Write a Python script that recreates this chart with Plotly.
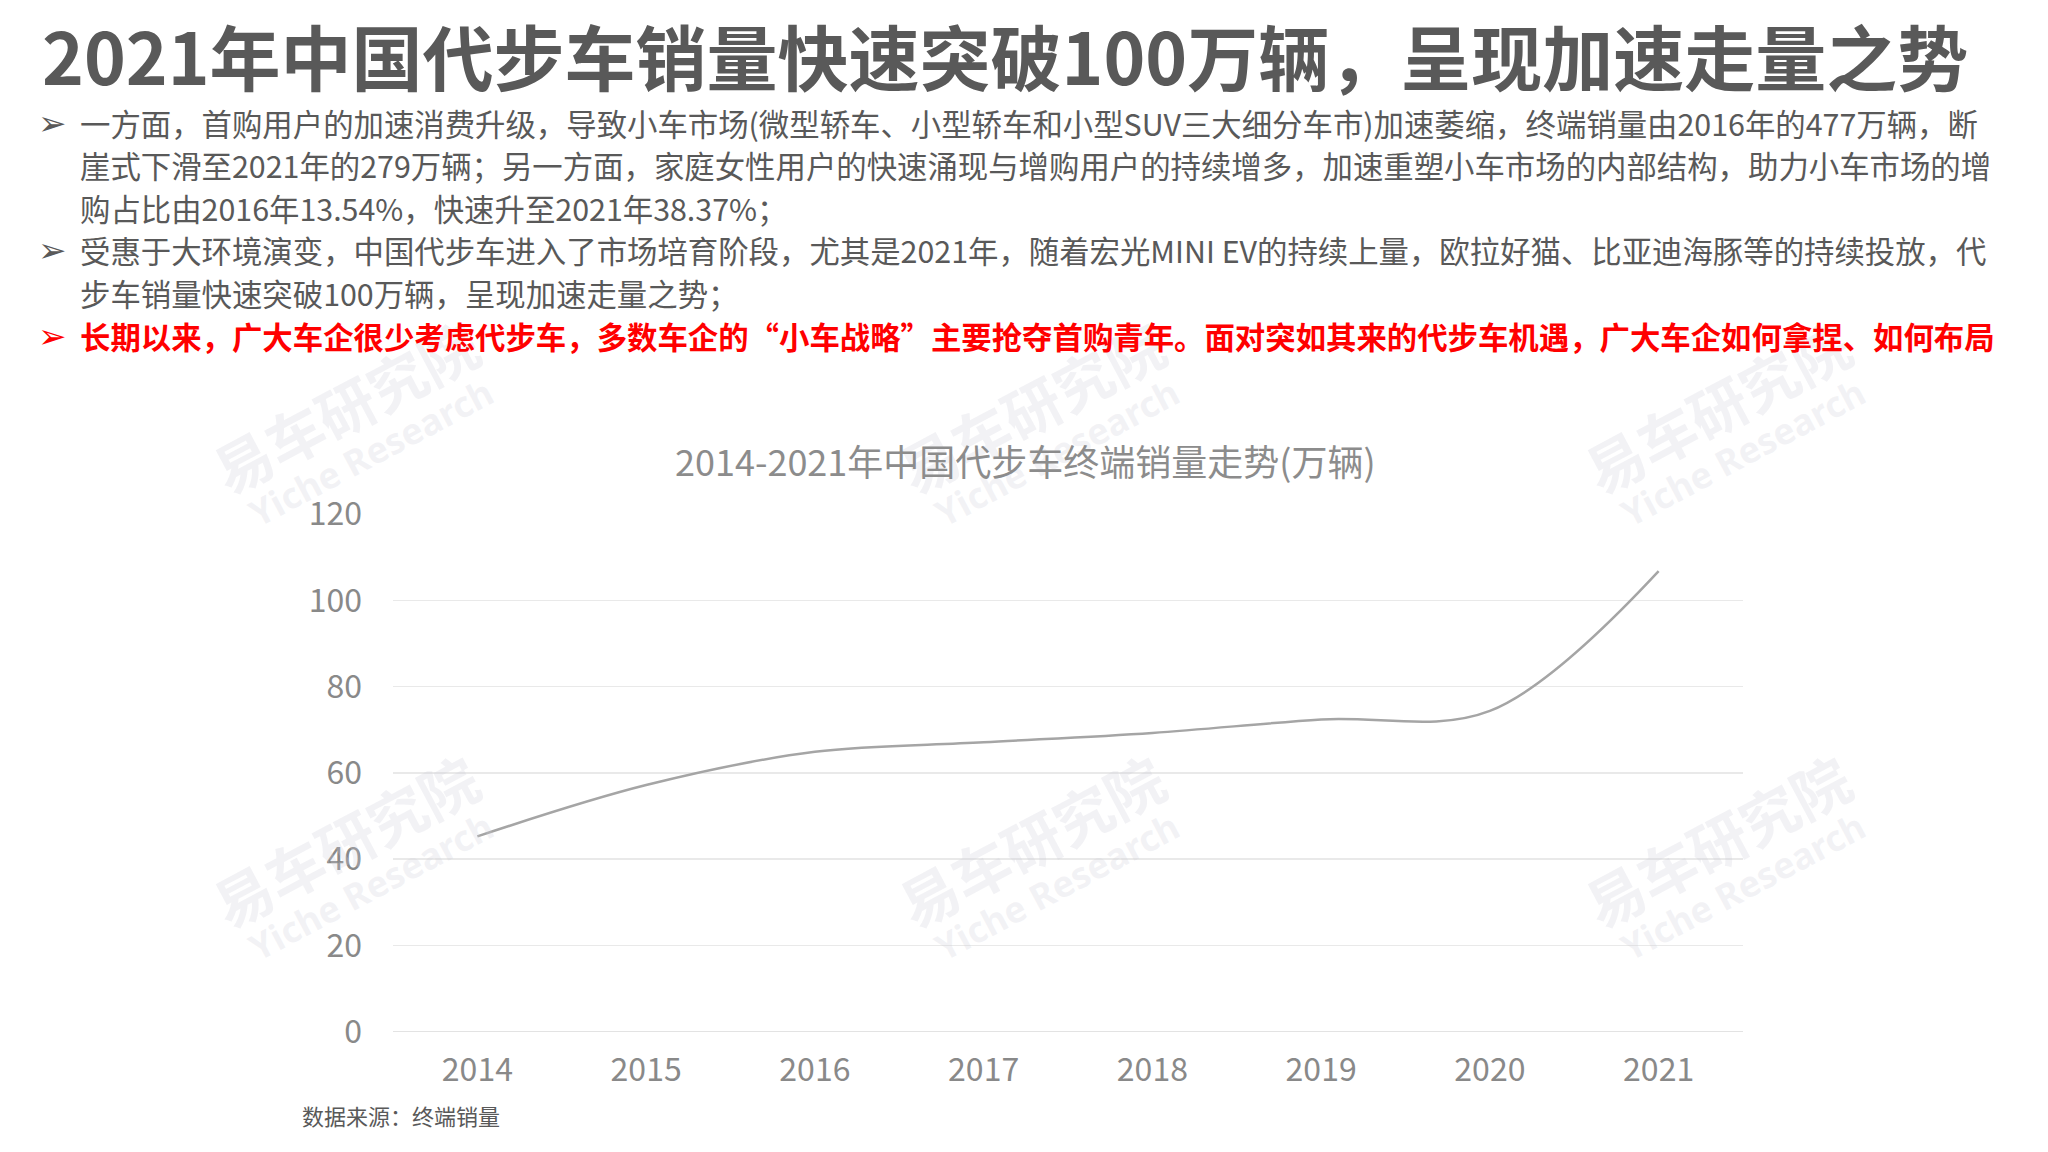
import plotly.graph_objects as go

W, H = 2048, 1152

years = ["2014", "2015", "2016", "2017", "2018", "2019", "2020", "2021"]
sales = [45.3, 57.2, 64.9, 67.1, 69.3, 72.4, 74.4, 106.8]
y_ticks = [0, 20, 40, 60, 80, 100, 120]

title_text = "2021年中国代步车销量快速突破100万辆，呈现加速走量之势"
chart_title = "2014-2021年中国代步车终端销量走势(万辆)"
source_text = "数据来源：终端销量"
bullet_lines = [
    "一方面，首购用户的加速消费升级，导致小车市场(微型轿车、小型轿车和小型SUV三大细分车市)加速萎缩，终端销量由2016年的477万辆，断",
    "崖式下滑至2021年的279万辆；另一方面，家庭女性用户的快速涌现与增购用户的持续增多，加速重塑小车市场的内部结构，助力小车市场的增",
    "购占比由2016年13.54%，快速升至2021年38.37%；",
    "受惠于大环境演变，中国代步车进入了市场培育阶段，尤其是2021年，随着宏光MINI EV的持续上量，欧拉好猫、比亚迪海豚等的持续投放，代",
    "步车销量快速突破100万辆，呈现加速走量之势；",
    "长期以来，广大车企很少考虑代步车，多数车企的“小车战略”主要抢夺首购青年。面对突如其来的代步车机遇，广大车企如何拿捏、如何布局",
]
bullet_rows = [0, 3, 5]

CJK = "Noto Sans CJK SC"
GRAY = "#595959"
RED = "#ff0000"


def px(x):
    return x / W


def py(y):
    return 1 - y / H


fig = go.Figure()
fig.add_trace(go.Scatter(
    x=years, y=sales, mode="lines",
    line=dict(color="#a5a5a5", width=2.5, shape="spline", smoothing=1.0),
    hoverinfo="skip", showlegend=False,
))

annotations = []

# watermarks
wm_color = "rgba(205,205,215,0.26)"
wm_centers = [(345, 406), (1031, 406), (1717, 406), (345, 840), (1031, 840), (1717, 840)]
for cx, cy in wm_centers:
    annotations.append(dict(
        x=px(cx), y=py(cy), xref="paper", yref="paper", text="易车研究院",
        showarrow=False, textangle=-28, xanchor="center", yanchor="middle",
        font=dict(family=CJK, size=58, color=wm_color, weight="bold"),
    ))
    annotations.append(dict(
        x=px(cx + 26), y=py(cy + 46), xref="paper", yref="paper", text="Yiche Research",
        showarrow=False, textangle=-28, xanchor="center", yanchor="middle",
        font=dict(family="Noto Sans", size=36, color=wm_color, weight="bold"),
    ))

# main title
annotations.append(dict(
    x=px(40), y=py(54), xref="paper", yref="paper", text=title_text,
    showarrow=False, xanchor="left", yanchor="middle",
    font=dict(family=CJK, size=71, color=GRAY, weight="bold"),
))

# bullet text lines
line_y = [123, 165.5, 208, 250.5, 293, 336]
for i, (txt, yy) in enumerate(zip(bullet_lines, line_y)):
    is_red = i == 5
    col = RED if is_red else GRAY
    annotations.append(dict(
        x=px(78), y=py(yy), xref="paper", yref="paper", text=txt,
        showarrow=False, xanchor="left", yanchor="middle",
        font=dict(family=CJK, size=30.4, color=col, weight="bold" if is_red else "normal"),
    ))
    if i in bullet_rows:
        annotations.append(dict(
            x=px(52), y=py(yy), xref="paper", yref="paper", text="➢",
            showarrow=False, xanchor="center", yanchor="middle",
            font=dict(family="DejaVu Sans", size=34, color=col),
        ))

# chart title
annotations.append(dict(
    x=px(1025), y=py(460), xref="paper", yref="paper", text=chart_title,
    showarrow=False, xanchor="center", yanchor="middle",
    font=dict(family=CJK, size=36, color="#8c8c8c"),
))

# source
annotations.append(dict(
    x=px(300), y=py(1115), xref="paper", yref="paper", text=source_text,
    showarrow=False, xanchor="left", yanchor="middle",
    font=dict(family=CJK, size=22, color=GRAY),
))

fig.update_layout(
    width=W, height=H,
    margin=dict(l=0, r=0, t=0, b=0, pad=0, autoexpand=False),
    paper_bgcolor="white", plot_bgcolor="white",
    showlegend=False,
    annotations=annotations,
    xaxis=dict(
        domain=[393 / W, 1743 / W], type="category", range=[-0.5, 7.5],
        showgrid=False, showline=False, zeroline=False, ticks="",
        tickfont=dict(family=CJK, size=32, color="#898989"),
        ticklabelstandoff=16, automargin=False,
    ),
    yaxis=dict(
        domain=[1 - 1031.7 / H, 1 - 513.4 / H], range=[0, 120.2],
        tickvals=y_ticks, ticktext=[str(v) for v in y_ticks],
        showgrid=True, gridcolor="#e9e9e9", gridwidth=1.5,
        zeroline=True, zerolinecolor="#e3e3e3", zerolinewidth=1.5,
        showline=False, ticks="",
        tickfont=dict(family=CJK, size=32, color="#898989"),
        ticklabelstandoff=30, automargin=False,
    ),
    hovermode=False,
)

fig.write_html("out.html", config={"displayModeBar": False, "staticPlot": True},
               post_script="document.body.style.margin='0';document.body.style.overflow='hidden';")
